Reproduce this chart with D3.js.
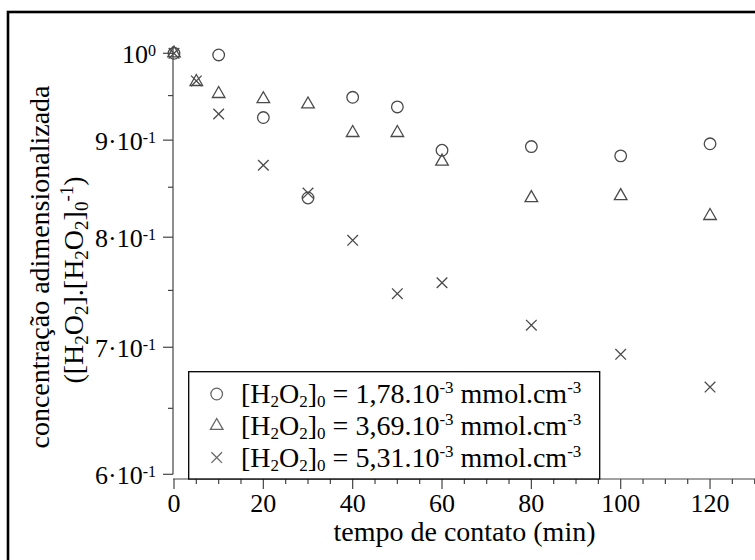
<!DOCTYPE html>
<html>
<head>
<meta charset="utf-8">
<script src="https://cdn.jsdelivr.net/npm/d3@7"></script>
<style>
  html, body { margin: 0; padding: 0; background: #fff; }
  svg { display: block; font-family: "Liberation Serif", "Times New Roman", serif; }
</style>
</head>
<body>
<svg id="chart" width="755" height="560"></svg>
<script>
// contact time (min)
const times = [0, 5, 10, 20, 30, 40, 50, 60, 80, 100, 120];
// normalised concentration [H2O2]/[H2O2]0 for each initial dose
const dose178 = [1.0, null, 0.998, 0.925, 0.839, 0.948, 0.937, 0.889, 0.893, 0.883, 0.896];
const dose369 = [1.0, 0.966, 0.952, 0.946, 0.940, 0.908, 0.908, 0.877, 0.839, 0.841, 0.821];
const dose531 = [1.0, 0.967, 0.929, 0.873, 0.844, 0.797, 0.747, 0.757, 0.719, 0.694, 0.667];

const legendLabels = ["1,78", "3,69", "5,31"];
const yMajorTicks = [1.0, 0.9, 0.8, 0.7, 0.6];
const yMajorLabels = [["10", "0"], ["9·10", "-1"], ["8·10", "-1"], ["7·10", "-1"], ["6·10", "-1"]];
const yMinorTicks = [0.95, 0.85, 0.75, 0.65];
const xMajorTicks = [0, 20, 40, 60, 80, 100, 120];

const svg = d3.select("#chart");
const ink = "#444";
const markInk = "#4a4a4a";

// outer frame
svg.append("rect")
  .attr("x", 8).attr("y", 12).attr("width", 820).attr("height", 620)
  .attr("fill", "none").attr("stroke", "#000").attr("stroke-width", 2.6);

const x = d3.scaleLinear().domain([0, 130]).range([174, 754.7]);
const y = d3.scaleLog().domain([0.6, 1.0089]).range([474.3, 46]);

// y axis
const yAxisG = svg.append("g").attr("transform", `translate(${x(0) - 1},0)`);
yAxisG.append("line").attr("y1", y(1.0089)).attr("y2", y(0.6))
  .attr("stroke", ink).attr("stroke-width", 1.2);
yAxisG.selectAll("line.maj").data(yMajorTicks).join("line").attr("class", "maj")
  .attr("x1", -10).attr("x2", 0).attr("y1", d => y(d)).attr("y2", d => y(d))
  .attr("stroke", ink).attr("stroke-width", 1.2);
yAxisG.selectAll("line.min").data(yMinorTicks).join("line").attr("class", "min")
  .attr("x1", -5).attr("x2", 0).attr("y1", d => y(d)).attr("y2", d => y(d))
  .attr("stroke", ink).attr("stroke-width", 1.2);
const yl = yAxisG.selectAll("text.tl").data(yMajorTicks).join("text").attr("class", "tl")
  .attr("x", -17).attr("y", d => y(d) + 10)
  .attr("text-anchor", "end").attr("font-size", 26).attr("fill", "#000");
yl.append("tspan").text((d, i) => yMajorLabels[i][0]);
yl.append("tspan").attr("font-size", 16).attr("dy", -7).text((d, i) => yMajorLabels[i][1]);

// x axis
const xAxisG = svg.append("g").attr("transform", `translate(0,479)`);
xAxisG.append("line").attr("x1", x(0) - 1).attr("x2", 760)
  .attr("stroke", ink).attr("stroke-width", 1.2);
xAxisG.selectAll("line.t").data(d3.range(0, 135, 5)).join("line").attr("class", "t")
  .attr("x1", d => x(d)).attr("x2", d => x(d))
  .attr("y1", 0).attr("y2", d => d % 20 === 0 ? 10 : 5)
  .attr("stroke", ink).attr("stroke-width", 1.2);
xAxisG.selectAll("text").data(xMajorTicks).join("text")
  .attr("x", d => x(d)).attr("y", 33)
  .attr("text-anchor", "middle").attr("font-size", 26).attr("fill", "#000")
  .text(d => d);

// axis titles
svg.append("text").attr("x", (x(0) + 755) / 2).attr("y", 541)
  .attr("text-anchor", "middle").attr("font-size", 28).attr("fill", "#000")
  .text("tempo de contato (min)");

svg.append("text")
  .attr("transform", "translate(49,267) rotate(-90)")
  .attr("text-anchor", "middle").attr("font-size", 28).attr("fill", "#000")
  .text("concentração adimensionalizada");
const t2 = svg.append("text")
  .attr("transform", "translate(83,280) rotate(-90)")
  .attr("text-anchor", "middle").attr("font-size", 28).attr("fill", "#000");
t2.append("tspan").text("([H");
t2.append("tspan").attr("font-size", 19).attr("dy", 5).text("2");
t2.append("tspan").attr("dy", -5).text("O");
t2.append("tspan").attr("font-size", 19).attr("dy", 5).text("2");
t2.append("tspan").attr("dy", -5).text("].[H");
t2.append("tspan").attr("font-size", 19).attr("dy", 5).text("2");
t2.append("tspan").attr("dy", -5).text("O");
t2.append("tspan").attr("font-size", 19).attr("dy", 5).text("2");
t2.append("tspan").attr("dy", -5).text("]");
t2.append("tspan").attr("font-size", 19).attr("dy", 5).text("0");
t2.append("tspan").attr("font-size", 19).attr("dy", -15).text("-1");
t2.append("tspan").attr("dy", 10).text(")");

// marker shapes
function circleMark(g, cx, cy, color) {
  g.append("circle").attr("cx", cx).attr("cy", cy).attr("r", 5.8)
    .attr("fill", "none").attr("stroke", color).attr("stroke-width", 1.3);
}
function triMark(g, cx, cy, color) {
  const w = 6.3, h = 11;
  g.append("path")
    .attr("d", `M${cx},${cy - h * 2 / 3}L${cx + w},${cy + h / 3}L${cx - w},${cy + h / 3}Z`)
    .attr("fill", "none").attr("stroke", color).attr("stroke-width", 1.3);
}
function crossMark(g, cx, cy, color) {
  const s = 5.3;
  g.append("path")
    .attr("d", `M${cx - s},${cy - s}L${cx + s},${cy + s}M${cx + s},${cy - s}L${cx - s},${cy + s}`)
    .attr("fill", "none").attr("stroke", color).attr("stroke-width", 1.3);
}

const series = [
  { values: dose178, draw: circleMark },
  { values: dose369, draw: triMark },
  { values: dose531, draw: crossMark }
];

const marks = svg.append("g");
series.forEach(s => {
  s.values.forEach((v, i) => {
    if (v == null) return;
    s.draw(marks, x(times[i]), y(v), markInk);
  });
});

// legend
const lg = svg.append("g");
lg.append("rect").attr("x", 188.7).attr("y", 371.7).attr("width", 411).attr("height", 479 - 371.7)
  .attr("fill", "#fff").attr("stroke", "#000").attr("stroke-width", 1.3);
legendLabels.forEach((lab, i) => {
  const cy = 394 + i * 31.8;
  series[i].draw(lg, 216.7, cy, "#666");
  const t = lg.append("text").attr("x", 241).attr("y", cy + 9)
    .attr("font-size", 28).attr("fill", "#000");
  t.append("tspan").text("[H");
  t.append("tspan").attr("font-size", 17).attr("dy", 4).text("2");
  t.append("tspan").attr("dy", -4).text("O");
  t.append("tspan").attr("font-size", 17).attr("dy", 4).text("2");
  t.append("tspan").attr("dy", -4).text("]");
  t.append("tspan").attr("font-size", 17).attr("dy", 4).text("0");
  t.append("tspan").attr("dy", -4).text(` = ${lab}.10`);
  t.append("tspan").attr("font-size", 17).attr("dy", -10).text("-3");
  t.append("tspan").attr("dy", 10).text(" mmol.cm");
  t.append("tspan").attr("font-size", 17).attr("dy", -10).text("-3");
});
</script>
</body>
</html>
